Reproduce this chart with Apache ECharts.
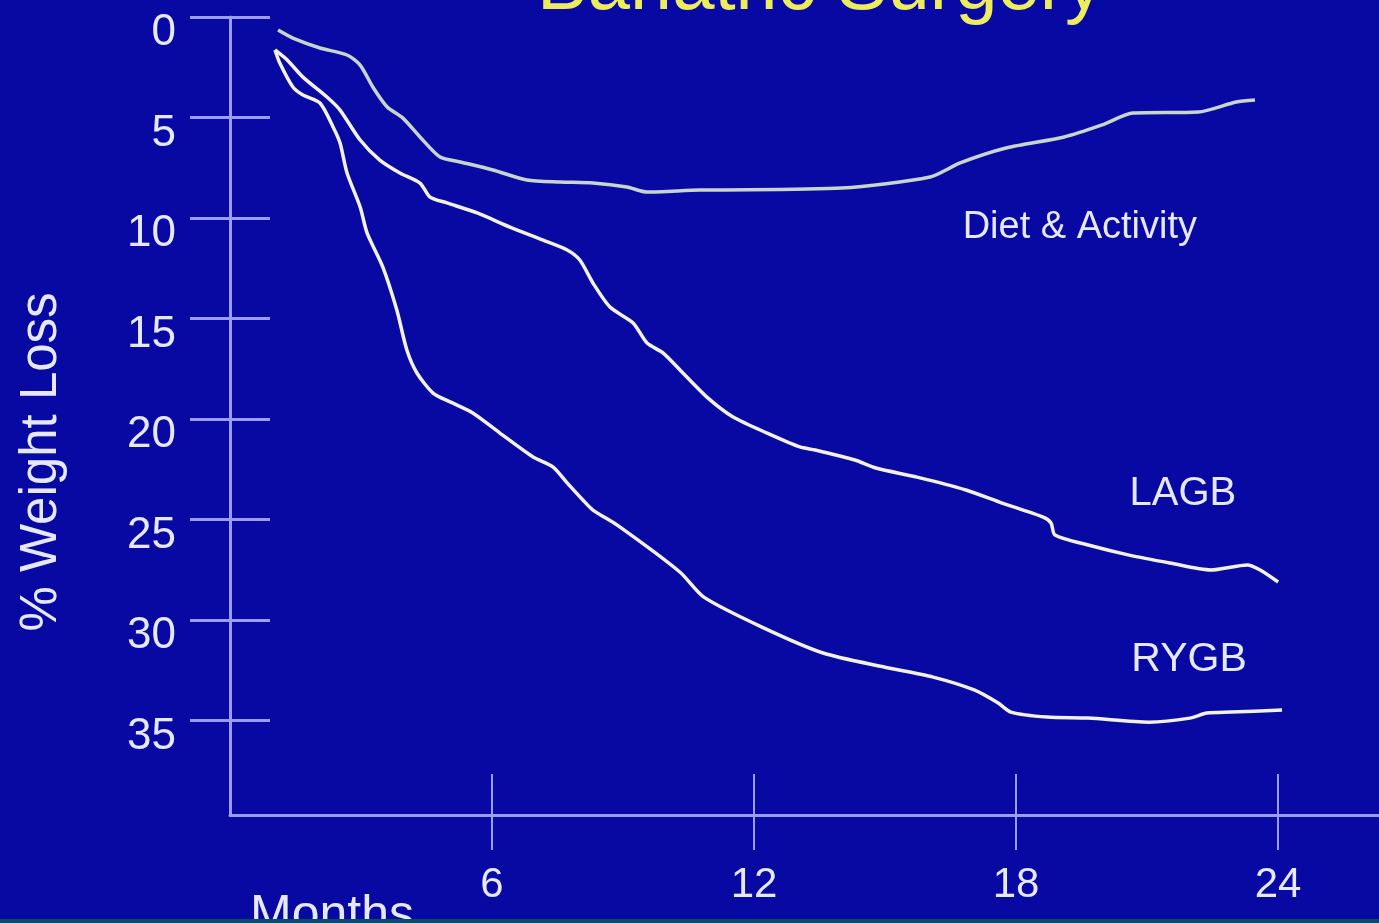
<!DOCTYPE html>
<html>
<head>
<meta charset="utf-8">
<title>Bariatric Surgery</title>
<script src="https://cdn.jsdelivr.net/npm/echarts@6/dist/echarts.min.js"></script>
<style>
  html, body { margin: 0; padding: 0; background: #0808a2; }
  #chart { width: 1379px; height: 923px; }
</style>
</head>
<body>
<div id="chart"></div>
<script>
// Percent weight loss over time (months) for three treatment groups.
const dietMonths = [1.10, 1.44, 2.06, 2.68, 2.98, 3.27, 3.60, 3.96, 4.35, 4.81, 5.27, 6.02, 6.80, 7.56, 8.31, 9.09, 9.55, 10.76, 14.01, 16.03, 16.72, 17.77, 19.10, 19.97, 20.68, 22.17, 23.04, 23.47];
const dietLoss   = [0.65, 1.05, 1.54, 1.89, 2.39, 3.48, 4.48, 5.03, 5.97, 6.97, 7.21, 7.61, 8.11, 8.21, 8.26, 8.46, 8.71, 8.61, 8.51, 7.96, 7.26, 6.52, 5.97, 5.37, 4.78, 4.73, 4.23, 4.13];

const lagbMonths = [1.03, 1.31, 1.67, 2.22, 2.52, 2.98, 3.43, 3.89, 4.35, 4.58, 4.97, 5.66, 6.41, 7.17, 7.72, 8.01, 8.31, 8.70, 9.23, 9.55, 9.92, 10.37, 10.92, 11.52, 12.30, 13.05, 13.40, 14.31, 14.79, 15.73, 16.85, 17.68, 18.62, 18.80, 18.89, 19.65, 20.59, 21.52, 22.46, 23.29, 23.59, 24.00];
const lagbLoss   = [1.64, 2.14, 2.99, 3.98, 4.63, 6.12, 7.12, 7.76, 8.26, 8.96, 9.25, 9.75, 10.45, 11.10, 11.59, 12.09, 13.23, 14.43, 15.22, 16.22, 16.72, 17.71, 18.91, 19.90, 20.70, 21.39, 21.54, 22.04, 22.44, 22.89, 23.53, 24.18, 24.88, 25.17, 25.77, 26.27, 26.77, 27.16, 27.51, 27.26, 27.51, 28.11];

const rygbMonths = [1.03, 1.14, 1.44, 1.67, 2.06, 2.36, 2.52, 2.68, 2.98, 3.14, 3.50, 3.82, 4.05, 4.28, 4.65, 5.04, 5.56, 6.18, 6.94, 7.40, 7.72, 8.08, 8.31, 8.86, 10.30, 10.85, 12.18, 13.58, 14.98, 16.10, 17.04, 17.59, 17.88, 18.71, 19.65, 21.04, 21.98, 22.37, 22.92, 24.09];
const rygbLoss   = [1.64, 2.29, 3.48, 3.88, 4.28, 5.47, 6.27, 7.76, 9.45, 10.75, 12.44, 14.58, 16.57, 17.71, 18.71, 19.15, 19.70, 20.70, 21.89, 22.39, 23.18, 24.03, 24.53, 25.27, 27.61, 28.86, 30.35, 31.64, 32.34, 32.84, 33.48, 34.13, 34.58, 34.83, 34.88, 35.08, 34.88, 34.63, 34.58, 34.48];

const monthTicks = [6, 12, 18, 24];
const lossTicks  = [0, 5, 10, 15, 20, 25, 30, 35];
const seriesNames = ['Diet & Activity', 'LAGB', 'RYGB'];

const zip = (xs, ys) => xs.map((x, i) => [x, ys[i]]);

const axisColor = '#9a9cff';
const textColor = '#e6e8ff';
const font = '"Liberation Sans", Arial, sans-serif';

const chart = echarts.init(document.getElementById('chart'), null, { renderer: 'canvas' });

function lineSeries(name, data, color, labelCoord, labelSize) {
  return {
    name: name,
    type: 'line',
    xAxisIndex: 0,
    yAxisIndex: 0,
    data: data,
    showSymbol: false,
    smooth: 0.25,
    lineStyle: { color: color, width: 3.5 },
    silent: true,
    markPoint: {
      symbol: 'circle',
      symbolSize: 0,
      silent: true,
      data: [{ coord: labelCoord }],
      label: {
        show: true,
        position: 'inside',
        formatter: name,
        color: textColor,
        fontFamily: font,
        fontSize: labelSize
      }
    }
  };
}

// Shared month axis range; the second copy only adds the downward half of each tick.
const monthRange = { type: 'value', min: 0, max: 26.31, splitLine: { show: false } };
const lossRange = { type: 'value', inverse: true, min: 0, max: 39.7, splitLine: { show: false } };

chart.setOption({
  backgroundColor: '#0808a2',
  animation: false,
  grid: { left: 230, top: 17, right: 0, bottom: 108, containLabel: false },
  xAxis: [
    Object.assign({}, monthRange, {
      axisLine: { show: true, onZero: false, lineStyle: { color: axisColor, width: 3 } },
      axisTick: { show: true, length: 41, inside: true, customValues: monthTicks, lineStyle: { color: axisColor, width: 2 } },
      axisLabel: { customValues: monthTicks, margin: 49, color: textColor, fontFamily: font, fontSize: 42 }
    }),
    Object.assign({}, monthRange, {
      position: 'bottom',
      axisLine: { show: false, onZero: false },
      axisTick: { show: true, length: 35, inside: false, customValues: monthTicks, lineStyle: { color: axisColor, width: 2 } },
      axisLabel: { show: false }
    })
  ],
  yAxis: [
    Object.assign({}, lossRange, {
      axisLine: { show: true, onZero: false, lineStyle: { color: axisColor, width: 3 } },
      axisTick: { show: true, length: 40, inside: false, customValues: lossTicks, lineStyle: { color: axisColor, width: 3 } },
      axisLabel: { customValues: lossTicks, margin: 54, verticalAlign: 'top', lineHeight: 32, color: textColor, fontFamily: font, fontSize: 44 }
    }),
    Object.assign({}, lossRange, {
      position: 'left',
      axisLine: { show: false, onZero: false },
      axisTick: { show: true, length: 40, inside: true, customValues: lossTicks, lineStyle: { color: axisColor, width: 3 } },
      axisLabel: { show: false }
    })
  ],
  series: [
    lineSeries(seriesNames[0], zip(dietMonths, dietLoss), '#c6d6cc', [19.46, 10.45], 38),
    lineSeries(seriesNames[1], zip(lagbMonths, lagbLoss), '#f2f2e2', [21.82, 23.73], 40),
    lineSeries(seriesNames[2], zip(rygbMonths, rygbLoss), '#f2f2e2', [21.96, 31.99], 41)
  ],
  graphic: [
    {
      type: 'text',
      x: 820, y: -12,
      style: { text: 'Bariatric Surgery', fill: '#ecec5c', font: '76px ' + font, textAlign: 'center', textVerticalAlign: 'middle' }
    },
    {
      type: 'text',
      x: 42, y: 462,
      rotation: Math.PI / 2,
      style: { text: '% Weight Loss', fill: textColor, font: '51px ' + font, textAlign: 'center', textVerticalAlign: 'middle' }
    },
    {
      type: 'text',
      x: 250, y: 916,
      style: { text: 'Months', fill: textColor, font: '50px ' + font, textAlign: 'left', textVerticalAlign: 'middle' }
    },
    {
      type: 'rect',
      shape: { x: 0, y: 919, width: 1379, height: 4 },
      style: { fill: '#0c4a6c' }
    }
  ]
});
</script>
</body>
</html>
